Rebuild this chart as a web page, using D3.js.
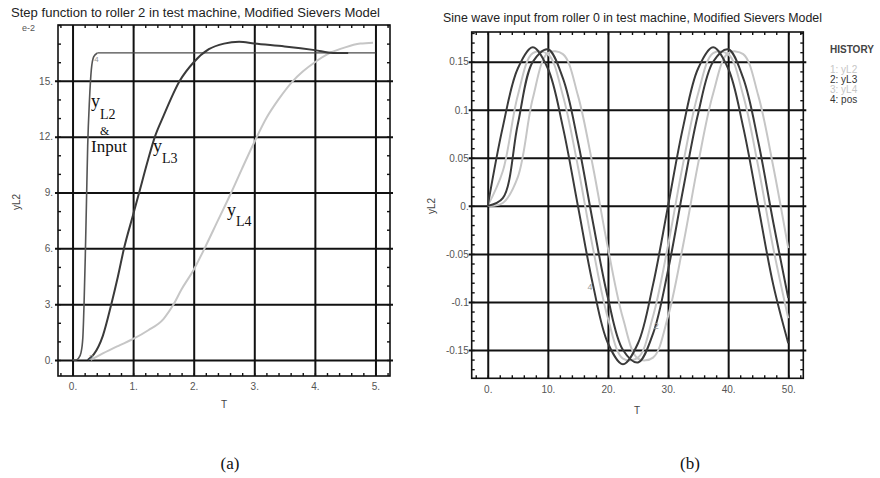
<!DOCTYPE html>
<html>
<head>
<meta charset="utf-8">
<script src="https://cdn.jsdelivr.net/npm/d3@7"></script>
<style>
  html, body { margin: 0; padding: 0; background: #fff; }
  svg { display: block; }
</style>
</head>
<body>
<svg id="chart" width="880" height="478"></svg>
<script>
// ---- Panel (a): step response (values in units of 1e-2) ----
const stepXTicks = [0, 1, 2, 3, 4, 5];
const stepXTickLabels = ["0.", "1.", "2.", "3.", "4.", "5."];
const stepYTicks = [0, 3, 6, 9, 12, 15];
const stepYTickLabels = ["0.", "3.", "6.", "9.", "12.", "15."];

const yL2StepT = [0, 0.05, 0.1, 0.14, 0.17, 0.19, 0.21, 0.23, 0.25, 0.28, 0.31, 0.35, 0.41];
const yL2StepV = [0, 0, 0.1, 0.4, 1.2, 3, 5.5, 8.5, 11.5, 14, 15.6, 16.3, 16.5];
const inputStepT = [0.41, 5.0];
const inputStepV = [16.5, 16.5];
const yL3StepT = [0.25, 0.35, 0.5, 0.64, 0.75, 0.85, 1.0, 1.1, 1.25, 1.36, 1.5, 1.77, 2.0, 2.25, 2.5, 2.75, 3.0, 3.5, 4.0, 4.3, 4.55];
const yL3StepV = [0, 0.3, 1.3, 3, 4.5, 6, 7.8, 9, 10.8, 12, 13.1, 15, 16.0, 16.7, 17.0, 17.1, 17.0, 16.85, 16.65, 16.5, 16.5];
const yL4StepT = [0.3, 0.5, 0.75, 1.0, 1.25, 1.5, 1.66, 1.8, 2.0, 2.18, 2.4, 2.62, 2.8, 3.0, 3.2, 3.4, 3.64, 3.8, 4.0, 4.25, 4.5, 4.75, 4.96];
const yL4StepV = [0, 0.35, 0.75, 1.13, 1.6, 2.2, 2.95, 3.8, 4.85, 6, 7.5, 9, 10.3, 11.7, 13, 14, 15, 15.5, 16.0, 16.5, 16.8, 17.0, 17.05];

// ---- Panel (b): sine wave response ----
const sineXTicks = [0, 10, 20, 30, 40, 50];
const sineXTickLabels = ["0.", "10.", "20.", "30.", "40.", "50."];
const sineYTicks = [-0.15, -0.1, -0.05, 0, 0.05, 0.1, 0.15];
const sineYTickLabels = ["-0.15", "-0.1", "-0.05", "0.", "0.05", "0.1", "0.15"];

const sineT = [0, 2.5, 5, 7.5, 10, 12.5, 15, 17.5, 20, 22.5, 25, 27.5, 30, 32.5, 35, 37.5, 40, 42.5, 45, 47.5, 50];
const posV  = [0, 0.082, 0.143, 0.165, 0.143, 0.082, 0, -0.082, -0.143, -0.165, -0.143, -0.082, 0, 0.082, 0.143, 0.165, 0.143, 0.082, 0, -0.082, -0.143];
const yL2V  = [0, 0.036, 0.115, 0.159, 0.158, 0.115, 0.041, -0.044, -0.117, -0.159, -0.158, -0.115, -0.041, 0.044, 0.117, 0.159, 0.158, 0.115, 0.041, -0.044, -0.117];
const yL3V  = [0, 0.008, 0.085, 0.150, 0.163, 0.133, 0.067, -0.017, -0.096, -0.150, -0.163, -0.133, -0.067, 0.017, 0.096, 0.150, 0.163, 0.133, 0.067, -0.017, -0.096];
const yL4V  = [0, 0.003, 0.030, 0.112, 0.159, 0.158, 0.115, 0.041, -0.044, -0.117, -0.159, -0.158, -0.115, -0.041, 0.044, 0.117, 0.159, 0.158, 0.115, 0.041, -0.044];

const historyLabels = ["1: yL2", "2: yL3", "3: yL4", "4: pos"];

const DARK = "#3a3a3a";
const LIGHT = "#c6c6c6";
const SANS = "'Liberation Sans', Arial, Helvetica, sans-serif";
const SERIF = "'Liberation Serif', 'Times New Roman', serif";

const svg = d3.select("#chart");

function zip(ts, vs) { return ts.map((t, i) => [t, vs[i]]); }

function drawPanel(cfg) {
  const g = svg.append("g");
  const x = d3.scaleLinear().domain(cfg.xDomain).range([cfg.left, cfg.right]);
  const y = d3.scaleLinear().domain(cfg.yDomain).range([cfg.bottom, cfg.top]);
  const w = cfg.right - cfg.left, h = cfg.bottom - cfg.top;

  // major grid
  g.append("g")
    .attr("transform", `translate(0,${cfg.top})`)
    .call(d3.axisBottom(x).tickValues(cfg.xTicks).tickSize(h).tickFormat(""))
    .call(a => a.select(".domain").remove())
    .call(a => a.selectAll("line").attr("stroke", "#111").attr("stroke-width", 2));
  g.append("g")
    .attr("transform", `translate(${cfg.left - 3},0)`)
    .call(d3.axisRight(y).tickValues(cfg.yTicks).tickSize(w + 6).tickFormat(""))
    .call(a => a.select(".domain").remove())
    .call(a => a.selectAll("line").attr("stroke", "#111").attr("stroke-width", 2));

  // frame
  g.append("rect")
    .attr("x", cfg.left).attr("y", cfg.top).attr("width", w).attr("height", h)
    .attr("fill", "none").attr("stroke", "#111").attr("stroke-width", 1.6);

  // minor ticks on all four edges, pointing inward
  const tk = 3;
  const minorTick = (axisFn, scale, values, tr) =>
    g.append("g").attr("transform", tr)
      .call(axisFn(scale).tickValues(values).tickSize(tk).tickFormat(""))
      .call(a => a.select(".domain").remove())
      .call(a => a.selectAll("line").attr("stroke", "#111").attr("stroke-width", 1.4));
  minorTick(d3.axisBottom, x, cfg.xMinor, `translate(0,${cfg.top})`);
  minorTick(d3.axisTop, x, cfg.xMinor, `translate(0,${cfg.bottom})`);
  minorTick(d3.axisRight, y, cfg.yMinor, `translate(${cfg.left},0)`);
  minorTick(d3.axisLeft, y, cfg.yMinor, `translate(${cfg.right},0)`);

  // tick labels
  g.append("g")
    .attr("transform", `translate(0,${cfg.bottom})`)
    .call(d3.axisBottom(x).tickValues(cfg.xTicks).tickSize(0).tickPadding(cfg.xPad)
      .tickFormat((d, i) => cfg.xLabels[i]))
    .call(a => a.select(".domain").remove())
    .call(a => a.selectAll("text").attr("fill", "#555").attr("font-size", 10).attr("font-family", SANS));
  g.append("g")
    .attr("transform", `translate(${cfg.left},0)`)
    .call(d3.axisLeft(y).tickValues(cfg.yTicks).tickSize(0).tickPadding(cfg.yPad)
      .tickFormat((d, i) => cfg.yLabels[i]))
    .call(a => a.select(".domain").remove())
    .call(a => a.selectAll("text").attr("fill", "#555").attr("font-size", 10).attr("font-family", SANS));

  // axis titles
  g.append("text").attr("x", cfg.xTitle[0]).attr("y", cfg.xTitle[1])
    .attr("text-anchor", "middle").attr("font-family", SANS).attr("font-size", 10)
    .attr("fill", "#444").text("T");
  g.append("text")
    .attr("transform", `translate(${cfg.yTitle[0]},${cfg.yTitle[1]}) rotate(-90)`)
    .attr("text-anchor", "middle").attr("font-family", SANS).attr("font-size", 10)
    .attr("fill", "#444").text("yL2");

  // chart title
  g.append("text").attr("x", cfg.title.x).attr("y", cfg.title.y)
    .attr("font-family", SANS).attr("font-size", 12).attr("fill", "#222")
    .attr("textLength", cfg.title.len).attr("lengthAdjust", "spacingAndGlyphs")
    .text(cfg.title.text);

  // series
  const clipId = "clip" + cfg.id;
  svg.append("clipPath").attr("id", clipId).append("rect")
    .attr("x", cfg.left).attr("y", cfg.top).attr("width", w).attr("height", h);
  const lines = g.append("g").attr("clip-path", `url(#${clipId})`);
  cfg.series.forEach(s => {
    lines.append("path")
      .datum(s.data)
      .attr("fill", "none")
      .attr("stroke", s.color)
      .attr("stroke-width", s.width)
      .attr("stroke-linejoin", "round")
      .attr("d", d3.line().x(d => x(d[0])).y(d => y(d[1])).curve(s.curve)(s.data));
  });

  return { g, x, y };
}

// ---- Panel (a) ----
const a = drawPanel({
  id: "a",
  left: 58, right: 390, top: 25, bottom: 376,
  xDomain: [-0.24, 5.24], yDomain: [-0.86, 18.0],
  xTicks: stepXTicks, xLabels: stepXTickLabels,
  yTicks: stepYTicks, yLabels: stepYTickLabels,
  xMinor: d3.range(-1, 27).map(i => i * 0.2),
  yMinor: d3.range(0, 19),
  xPad: 7, yPad: 5,
  xTitle: [224, 408], yTitle: [20, 202],
  title: { x: 11, y: 17, len: 369, text: "Step function to roller 2 in test machine, Modified Sievers Model" },
  series: [
    { data: zip(yL4StepT, yL4StepV), color: LIGHT, width: 2, curve: d3.curveMonotoneX },
    { data: zip(inputStepT, inputStepV), color: "#4a4a4a", width: 1.3, curve: d3.curveLinear },
    { data: zip(yL2StepT, yL2StepV), color: "#555", width: 1.6, curve: d3.curveMonotoneX },
    { data: zip(yL3StepT, yL3StepV), color: DARK, width: 2, curve: d3.curveMonotoneX }
  ]
});

a.g.append("text").attr("x", 22).attr("y", 31)
  .attr("font-family", SANS).attr("font-size", 9).attr("fill", "#555").text("e-2");

// curve annotations
function subLabel(g, x, y, main, sub, dy) {
  const t = g.append("text").attr("x", x).attr("y", y)
    .attr("font-family", SERIF).attr("font-size", 18).attr("fill", "#111");
  t.append("tspan").text(main);
  t.append("tspan").attr("dy", dy).attr("font-size", 14).text(sub);
}
subLabel(a.g, 91, 107, "y", "L2", 12);
a.g.append("text").attr("x", 100).attr("y", 135)
  .attr("font-family", SERIF).attr("font-size", 12).attr("fill", "#111").text("&");
a.g.append("text").attr("x", 91).attr("y", 152)
  .attr("font-family", SERIF).attr("font-size", 17).attr("fill", "#111").text("Input");
subLabel(a.g, 153, 152, "y", "L3", 11);
subLabel(a.g, 227, 216, "y", "L4", 10);

a.g.append("text").attr("x", a.x(0.36)).attr("y", a.y(16.0))
  .attr("font-family", SANS).attr("font-size", 8).attr("fill", "#999").text("4");
a.g.append("text").attr("x", a.x(0.27)).attr("y", a.y(0))
  .attr("font-family", SANS).attr("font-size", 8).attr("fill", "#999").text("2");

// ---- Panel (b) ----
const b = drawPanel({
  id: "b",
  left: 471.7, right: 803.3, top: 32, bottom: 378.3,
  xDomain: [-2.67, 52.5], yDomain: [-0.1795, 0.181],
  xTicks: sineXTicks, xLabels: sineXTickLabels,
  yTicks: sineYTicks, yLabels: sineYTickLabels,
  xMinor: d3.range(-1, 27).map(i => i * 2),
  yMinor: d3.range(-17, 19).map(i => i / 100),
  xPad: 7.5, yPad: 3,
  xTitle: [637, 414], yTitle: [435, 206],
  title: { x: 443, y: 22, len: 379, text: "Sine wave input from roller 0 in test machine, Modified Sievers Model" },
  series: [
    { data: zip(sineT, yL4V), color: LIGHT, width: 2, curve: d3.curveCatmullRom },
    { data: zip(sineT, yL2V), color: LIGHT, width: 2, curve: d3.curveCatmullRom },
    { data: zip(sineT, yL3V), color: DARK, width: 2, curve: d3.curveCatmullRom },
    { data: zip(sineT, posV), color: DARK, width: 2, curve: d3.curveCatmullRom }
  ]
});

b.g.append("text").attr("x", b.x(16.6)).attr("y", b.y(-0.088))
  .attr("font-family", SANS).attr("font-size", 9).attr("fill", "#999").text("4");
b.g.append("text").attr("x", b.x(27.6)).attr("y", b.y(-0.128))
  .attr("font-family", SANS).attr("font-size", 9).attr("fill", "#999").text("2");

// legend
const legend = svg.append("g").attr("font-family", SANS);
legend.append("text").attr("x", 830).attr("y", 53).attr("font-size", 10)
  .attr("font-weight", "bold").attr("fill", "#444").text("HISTORY");
const legendColors = [LIGHT, "#333", LIGHT, "#333"];
legend.selectAll("text.item").data(historyLabels).join("text")
  .attr("class", "item")
  .attr("x", 830).attr("y", (d, i) => 73 + i * 10)
  .attr("font-size", 10)
  .attr("fill", (d, i) => legendColors[i])
  .text(d => d);

// sub-figure captions
svg.append("text").attr("x", 230).attr("y", 469).attr("text-anchor", "middle")
  .attr("font-family", SERIF).attr("font-size", 17).attr("fill", "#111").text("(a)");
svg.append("text").attr("x", 690).attr("y", 469).attr("text-anchor", "middle")
  .attr("font-family", SERIF).attr("font-size", 17).attr("fill", "#111").text("(b)");
</script>
</body>
</html>
